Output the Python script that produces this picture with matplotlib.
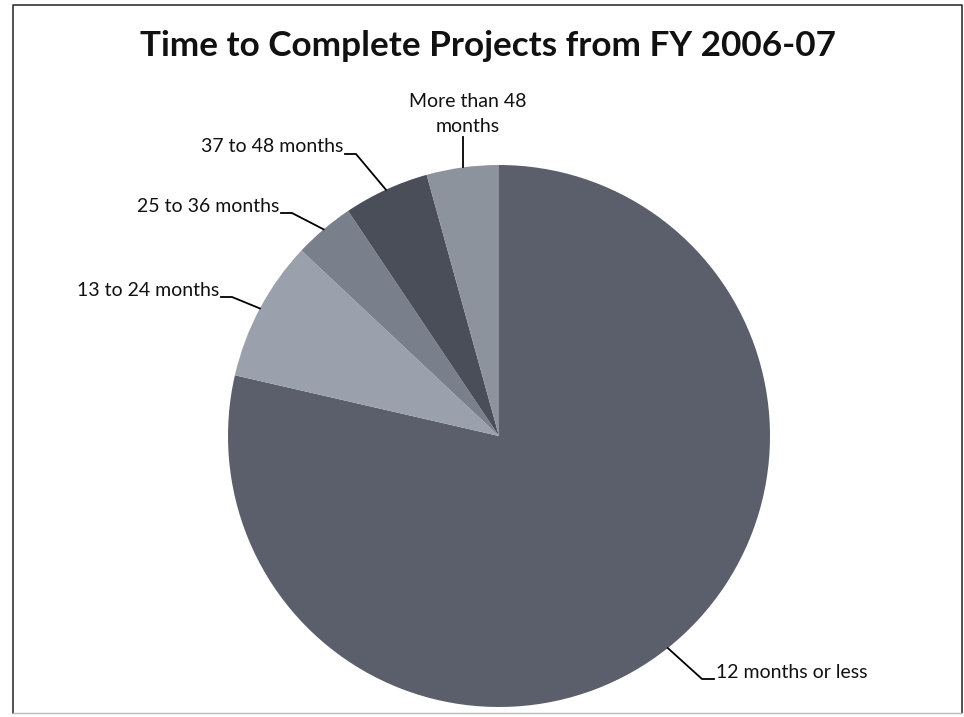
import numpy as np
import matplotlib
matplotlib.use("Agg")
import matplotlib.pyplot as plt

# share of projects by completion time (%)
categories = ["12 months or less", "13 to 24 months", "25 to 36 months",
              "37 to 48 months", "More than 48\nmonths"]
shares = [78.6, 8.4, 3.6, 5.1, 4.3]
colors = ["#5a5f6b", "#9aa1ad", "#7a808b", "#4a4e58", "#8d939d"]

W, H = 964, 717
fig = plt.figure(figsize=(W / 100, H / 100), dpi=100)
ax = fig.add_axes([0, 0, 1, 1])

def Y(y):
    # image rows (from top) -> data y (from bottom)
    return H - y

cx, cy, R = 499, Y(436), 271
wedges, _ = ax.pie(shares, colors=colors, startangle=90, counterclock=False,
                   center=(cx, cy), radius=R, wedgeprops=dict(linewidth=0))
ax.set_xlim(0, W)
ax.set_ylim(0, H)
ax.set_aspect("auto")
ax.axis("off")

plt.rcParams["font.family"] = ["Lato", "DejaVu Sans"]
fs = 14

def edge_point(w):
    a = np.deg2rad((w.theta1 + w.theta2) / 2)
    return cx + R * np.cos(a), cy + R * np.sin(a)

# left side labels: text, then short horizontal tick, then line to slice
left = {1: (219, 290), 2: (279, 206), 3: (343, 147)}
for i, (tx, ty) in left.items():
    ax.text(tx, Y(ty), categories[i], ha="right", va="center", fontsize=fs, color="#111111")
    ex, ey = edge_point(wedges[i])
    ax.plot([tx + 2, tx + 13, ex], [Y(ty + 7), Y(ty + 7), ey], color="black", lw=1.3)

# top label
ex, ey = edge_point(wedges[4])
ax.text(468, Y(114), categories[4], ha="center", va="center", fontsize=fs,
        color="#111111", linespacing=1.6)
ax.plot([ex, ex], [Y(137), ey], color="black", lw=1.3)

# bottom right label
ex, ey = edge_point(wedges[0])
ax.text(716, Y(672), categories[0], ha="left", va="center", fontsize=fs, color="#111111")
ax.plot([ex, 702, 714], [ey, Y(679), Y(679)], color="black", lw=1.3)

ax.text(488, Y(46), "Time to Complete Projects from FY 2006-07", ha="center", va="center",
        fontsize=25.3, fontweight="bold", color="#111111")

# frame of the scanned chart
ax.plot([13, 13, 962, 962], [Y(713), Y(5), Y(5), Y(713)], color="#333333", lw=1.2)
ax.plot([13, 962], [Y(713), Y(713)], color="#bbbbbb", lw=1.0)

fig.savefig("out.png", dpi=100)
